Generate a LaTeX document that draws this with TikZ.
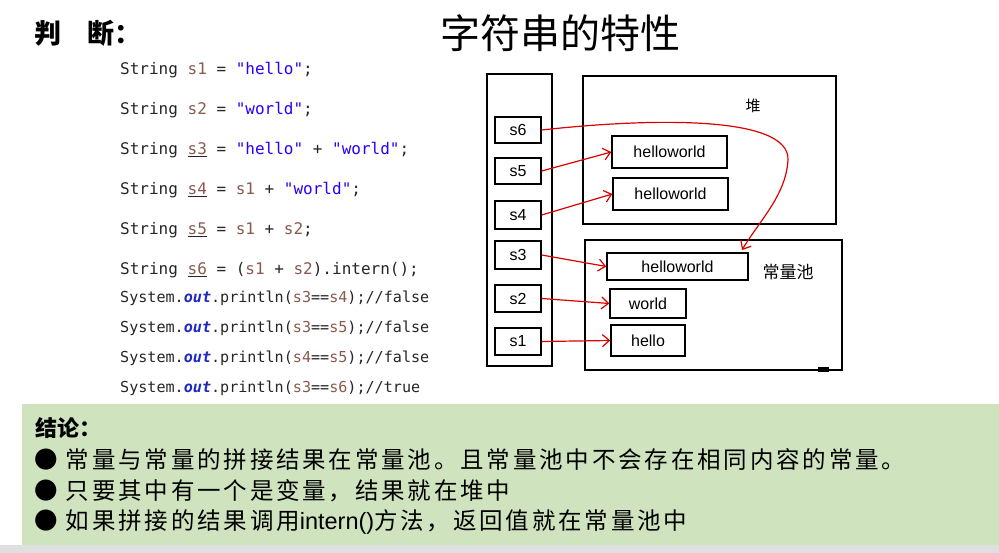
\documentclass[tikz,border=0pt]{standalone}
\usepackage{fontspec}
\setmainfont{Liberation Sans}
\newfontfamily\cjk{Noto Sans CJK SC}
\newfontfamily\cjkw[LetterSpace=12]{Noto Sans CJK SC}
\newfontfamily\code{DejaVu Sans Mono}
\usetikzlibrary{arrows.meta}
\definecolor{gbg}{HTML}{CFE3BF}
\definecolor{vr}{HTML}{8A5A4E}
\definecolor{st}{HTML}{2A00FF}
\definecolor{ob}{HTML}{1E2AC0}
\newcommand{\V}[1]{\textcolor{vr}{#1}}
\newcommand{\Vu}[1]{\underline{\textcolor{vr}{#1}}}
\newcommand{\Sq}[1]{\textcolor{st}{#1}}
\newcommand{\Ot}{\textcolor{ob}{\textbf{\textit{out}}}}
\begin{document}
\begin{tikzpicture}[x=1pt,y=-1pt,
 box/.style={draw,line width=1.4pt,inner sep=0pt,font=\fontsize{16}{16}\selectfont},
 cl/.style={anchor=west,inner sep=0pt,text=black!85,font=\code\fontsize{16}{16}\selectfont},
 cp/.style={anchor=west,inner sep=0pt,text=black!85,font=\code\fontsize{15.1}{16}\selectfont},
 arr/.style={draw=red!85!black,line width=1.2pt,-{Straight Barb[length=7pt,width=12pt]}},
 bl/.style={anchor=west,inner sep=0pt,font=\cjkw\fontsize{23.5}{24}\selectfont}]
\useasboundingbox (0,0) rectangle (999,553);
\fill[white] (0,0) rectangle (999,553);
\fill[gbg] (22,404) rectangle (999,545);
\fill[gray!25] (0,545) rectangle (999,553);
% titles
\node[anchor=west,inner sep=0pt,font=\cjk\bfseries\fontsize{27}{27}\selectfont] (t1) at (34,33) {判\hspace{26pt}断：};
\node[inner sep=0pt,font=\cjk\fontsize{40}{40}\selectfont] (t2) at (560,33) {字符串的特性};
% code
\node[cl] (c1) at (120,70) {String \V{s1} = \Sq{"hello"};};
\node[cl] (c2) at (120,110) {String \V{s2} = \Sq{"world"};};
\node[cl] (c3) at (120,150) {String \Vu{s3} = \Sq{"hello"} + \Sq{"world"};};
\node[cl] (c4) at (120,190) {String \Vu{s4} = \V{s1} + \Sq{"world"};};
\node[cl] (c5) at (120,230) {String \Vu{s5} = \V{s1} + \V{s2};};
\node[cl] (c6) at (120,270) {String \Vu{s6} = (\V{s1} + \V{s2}).intern();};
\node[cp] (c7) at (120,298) {System.\Ot.println(\V{s3}==\V{s4});//false};
\node[cp] (c8) at (120,328) {System.\Ot.println(\V{s3}==\V{s5});//false};
\node[cp] (c9) at (120,358) {System.\Ot.println(\V{s4}==\V{s5});//false};
\node[cp] (c10) at (120,388) {System.\Ot.println(\V{s3}==\V{s6});//true};
% stack
\node[box,minimum width=65,minimum height=292] (stk) at (519.5,220) {};
\node[box,minimum width=46,minimum height=26] (s6) at (518,130) {s6};
\node[box,minimum width=46,minimum height=26] (s5) at (518,171) {s5};
\node[box,minimum width=46,minimum height=28] (s4) at (518,215) {s4};
\node[box,minimum width=46,minimum height=28] (s3) at (518,255) {s3};
\node[box,minimum width=46,minimum height=27] (s2) at (518,298.5) {s2};
\node[box,minimum width=46,minimum height=27] (s1) at (518,341.5) {s1};
% heap
\node[box,minimum width=253,minimum height=148] (heap) at (709.5,150) {};
\node[inner sep=0pt,font=\cjk\fontsize{15}{15}\selectfont] (hl) at (753,106) {堆};
\node[box,minimum width=115,minimum height=32] (h1) at (669.5,152) {helloworld};
\node[box,minimum width=115,minimum height=32] (h2) at (670.5,194) {helloworld};
% pool
\node[box,minimum width=257,minimum height=130] (pool) at (713.5,305) {};
\node[inner sep=0pt,font=\cjk\fontsize{17}{17}\selectfont] (pl) at (788,272) {常量池};
\node[box,minimum width=141,minimum height=27] (p3) at (677.5,266.5) {helloworld};
\node[box,minimum width=76,minimum height=29] (p2) at (648,303.5) {world};
\node[box,minimum width=74,minimum height=31] (p1) at (648,340.5) {hello};
\fill (818,367) rectangle (829,372);
% arrows
\draw[arr] (s5.east) -- (h1.west);
\draw[arr] (s4.east) -- (h2.west);
\draw[arr] (s3.east) -- (p3.west);
\draw[arr] (s2.east) -- (p2.west);
\draw[arr] (s1.east) -- (p1.west);
\draw[arr] (s6.east) .. controls (650,118) and (790,115) .. (788,160) .. controls (786,195) and (760,220) .. (742,250);
% conclusion
\node[anchor=west,inner sep=0pt,font=\cjk\bfseries\fontsize{22}{22}\selectfont] (jl) at (35,428) {结论：};
\node[bl] (b1) at (34,460) {●\ 常量与常量的拼接结果在常量池。且常量池中不会存在相同内容的常量。};
\node[bl] (b2) at (34,491) {●\ 只要其中有一个是变量，结果就在堆中};
\node[bl] (b3) at (34,522) {●\ 如果拼接的结果调用{\fontspec{Liberation Sans}intern()}方法，返回值就在常量池中};
\end{tikzpicture}
\end{document}
